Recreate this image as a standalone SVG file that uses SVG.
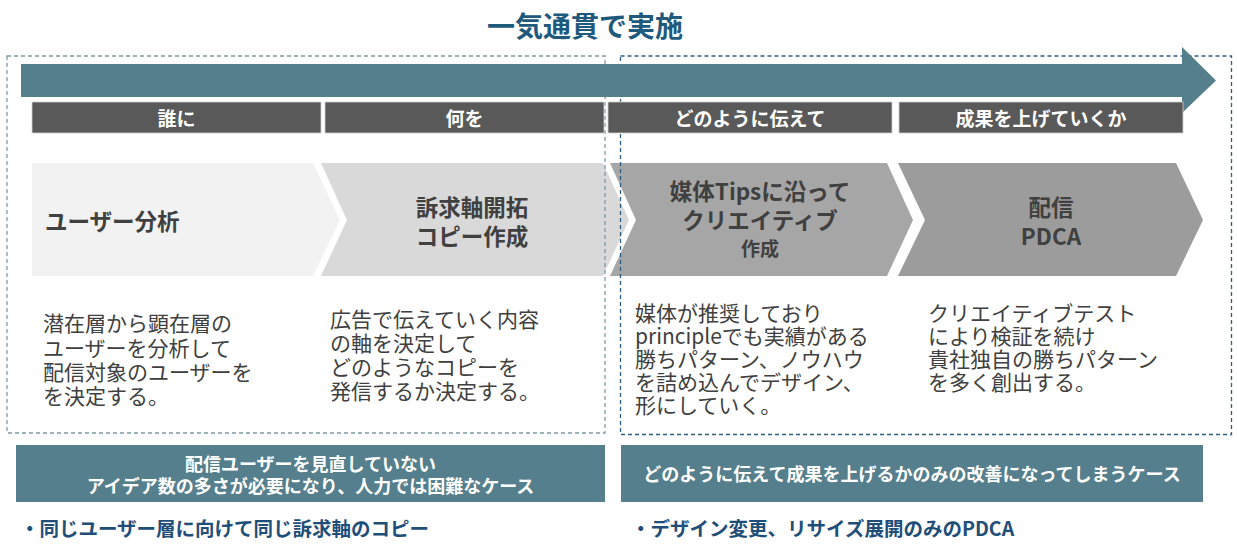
<svg xmlns="http://www.w3.org/2000/svg" width="1237" height="559" viewBox="0 0 1237 559">
<style>
text{font-family:"Noto Sans CJK JP","Noto Sans",sans-serif;dominant-baseline:central}
.title{font-size:28px;font-weight:700;fill:#1F5A7D}
.hdr{font-size:19px;font-weight:700;fill:#FFFFFF;text-anchor:middle}
.chev{font-size:22.5px;font-weight:700;fill:#404040}
.desc{font-size:21px;font-weight:400;fill:#404040}
.ban{font-size:18px;font-weight:700;fill:#FFFFFF;text-anchor:middle}
.bul{font-size:19.5px;font-weight:700;fill:#1F4E79}
.dashL{fill:none;stroke:#7F99A6;stroke-width:1.3;stroke-dasharray:4 3}
.dashR{fill:none;stroke:#2F5F80;stroke-width:1.3;stroke-dasharray:4 3}
.hbox{fill:#595959;stroke:#D0D0D0;stroke-width:0.8}
.teal{fill:#557F8C}
</style>
<text class="title" x="585" y="25" text-anchor="middle">一気通貫で実施</text>

<g id="chevrons">
<g id="step1"><polygon points="32,163 313,163 340,220 313,276 32,276" fill="#F2F2F2"/><text class="chev" x="45" y="220">ユーザー分析</text></g>
<g id="step2"><polygon points="321,163 603,163 629,220 603,276 321,276 347,220" fill="#D9D9D9"/><text class="chev" x="472" y="206" text-anchor="middle">訴求軸開拓</text><text class="chev" x="472" y="235" text-anchor="middle">コピー作成</text></g>
<g id="step3"><polygon points="610,163 887,163 913,220 887,276 610,276 636,220" fill="#A6A6A6"/><text class="chev" x="760" y="190" text-anchor="middle">媒体Tipsに沿って</text><text class="chev" x="760" y="219" text-anchor="middle">クリエイティブ</text><text class="chev" x="760" y="247" text-anchor="middle" style="font-size:19px">作成</text></g>
<g id="step4"><polygon points="898,163 1176,163 1203,220 1176,276 898,276 925,220" fill="#9C9C9C"/><text class="chev" x="1051" y="206" text-anchor="middle">配信</text><text class="chev" x="1051" y="235" text-anchor="middle">PDCA</text></g>
</g>

<g id="frames">
<rect class="dashL" x="7" y="56" width="598" height="377"/>
<rect class="dashR" x="620.5" y="56" width="611" height="378.5"/>
</g>

<g id="connectors">
<polygon class="teal" points="21,64 1182,64 1182,47 1216,80.5 1182,113 1182,97 21,97"/>
</g>

<g id="headers">
<g id="h1"><rect class="hbox" x="32" y="102" width="289" height="31"/><text class="hdr" x="176.5" y="117.5">誰に</text></g>
<g id="h2"><rect class="hbox" x="325" y="102" width="279" height="31"/><text class="hdr" x="464.5" y="117.5">何を</text></g>
<g id="h3"><rect class="hbox" x="608" y="102" width="284" height="31"/><text class="hdr" x="750" y="117.5">どのように伝えて</text></g>
<g id="h4"><rect class="hbox" x="899" y="102" width="284" height="31"/><text class="hdr" x="1041" y="117.5">成果を上げていくか</text></g>
</g>

<g id="desc1"><text class="desc">
<tspan x="43" y="322">潜在層から顕在層の</tspan>
<tspan x="43" y="347">ユーザーを分析して</tspan>
<tspan x="43" y="371">配信対象のユーザーを</tspan>
<tspan x="43" y="395">を決定する。</tspan>
</text></g>
<g id="desc2"><text class="desc">
<tspan x="330" y="318">広告で伝えていく内容</tspan>
<tspan x="330" y="342">の軸を決定して</tspan>
<tspan x="330" y="366">どのようなコピーを</tspan>
<tspan x="330" y="390">発信するか決定する。</tspan>
</text></g>
<g id="desc3"><text class="desc">
<tspan x="635" y="312">媒体が推奨しており</tspan>
<tspan x="635" y="335">principleでも実績がある</tspan>
<tspan x="635" y="358">勝ちパターン、ノウハウ</tspan>
<tspan x="635" y="381">を詰め込んでデザイン、</tspan>
<tspan x="635" y="404">形にしていく。</tspan>
</text></g>
<g id="desc4"><text class="desc">
<tspan x="928" y="312">クリエイティブテスト</tspan>
<tspan x="928" y="335">により検証を続け</tspan>
<tspan x="928" y="358">貴社独自の勝ちパターン</tspan>
<tspan x="928" y="381">を多く創出する。</tspan>
</text></g>

<g id="banner1">
<rect class="teal" x="16" y="445" width="589" height="57"/>
<text class="ban"><tspan x="310.5" y="463">配信ユーザーを見直していない</tspan><tspan x="310.5" y="485">アイデア数の多さが必要になり、人力では困難なケース</tspan></text>
</g>
<g id="banner2">
<rect class="teal" x="621" y="445" width="582" height="57"/>
<text class="ban" x="912" y="473">どのように伝えて成果を上げるかのみの改善になってしまうケース</text>
</g>

<g id="bullet1"><text class="bul" x="20" y="527">・同じユーザー層に向けて同じ訴求軸のコピー</text></g>
<g id="bullet2"><text class="bul" x="631" y="527">・デザイン変更、リサイズ展開のみのPDCA</text></g>
</svg>
